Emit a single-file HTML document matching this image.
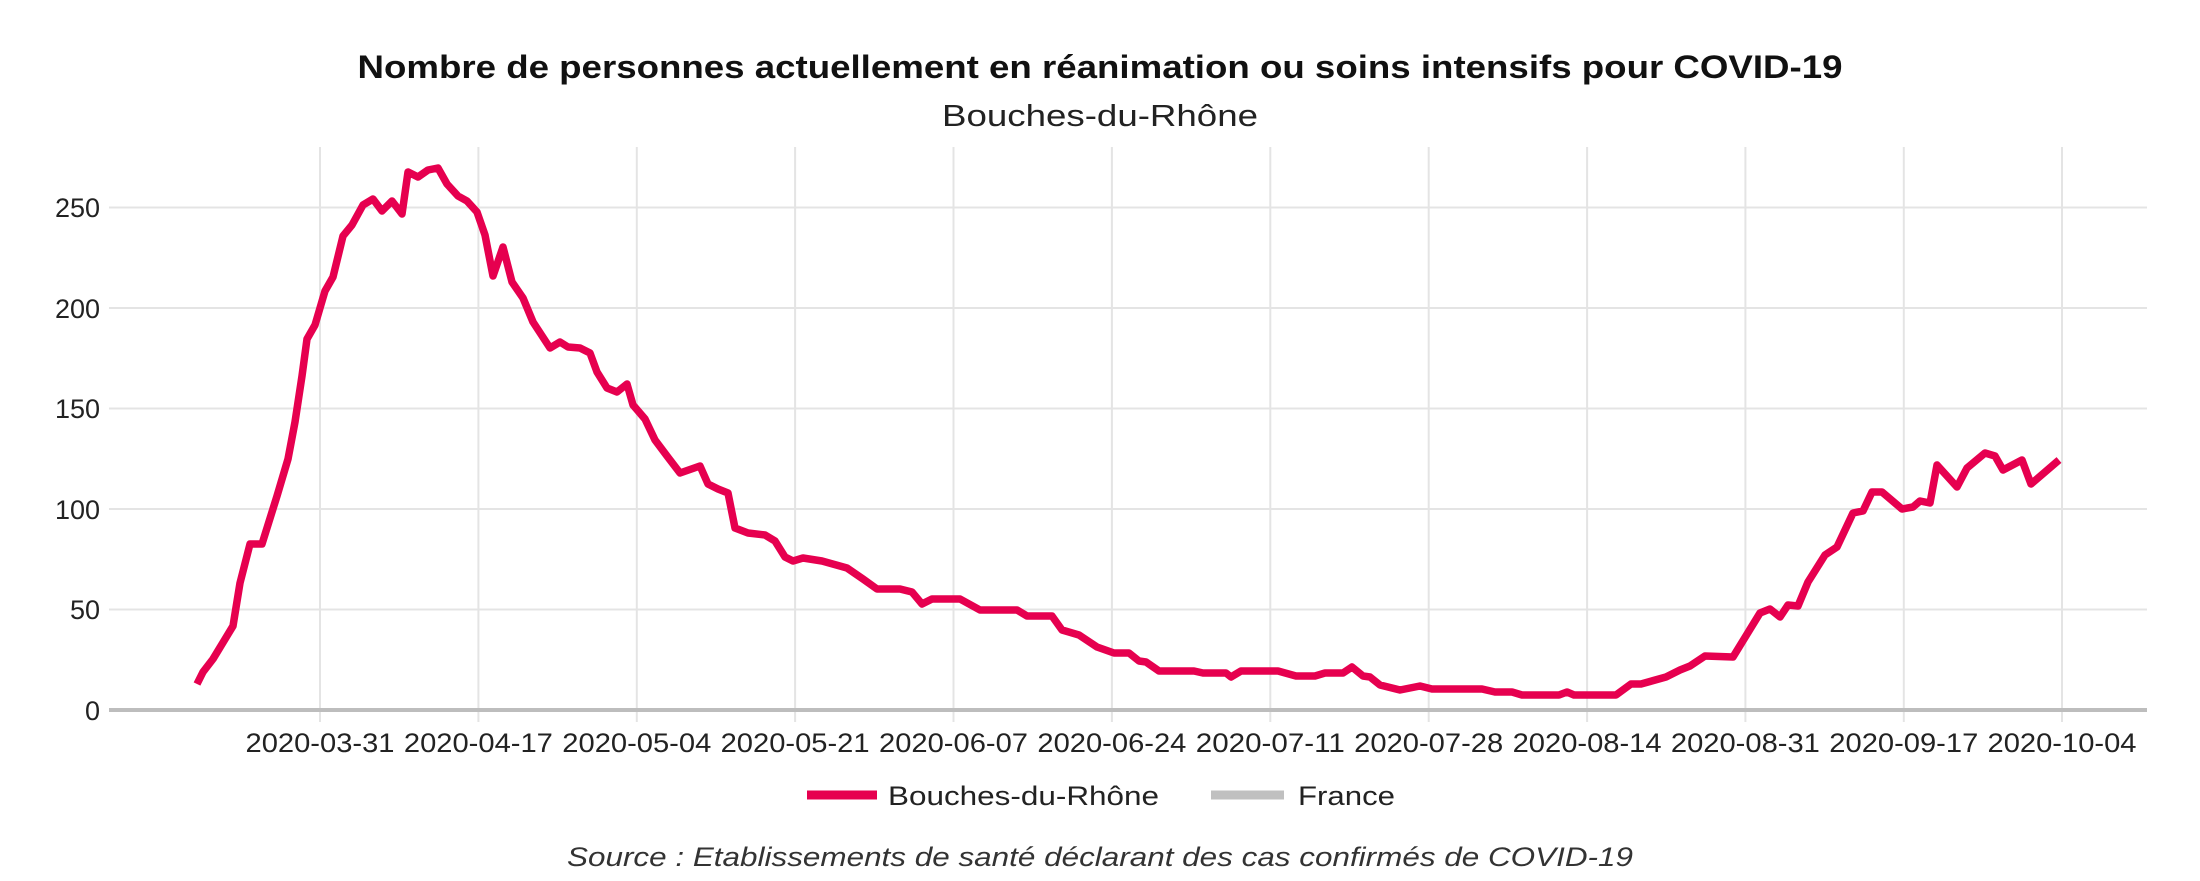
<!DOCTYPE html>
<html><head><meta charset="utf-8"><style>html,body{margin:0;padding:0;background:#fff}svg{display:block}</style></head>
<body>
<svg width="2200" height="881" viewBox="0 0 2200 881" xmlns="http://www.w3.org/2000/svg" font-family="Liberation Sans, Arial, sans-serif">
<rect width="2200" height="881" fill="#fff"/>
<g stroke="#e4e4e4" stroke-width="2">
<line x1="109" x2="2147" y1="609.5" y2="609.5"/>
<line x1="109" x2="2147" y1="509" y2="509"/>
<line x1="109" x2="2147" y1="408.5" y2="408.5"/>
<line x1="109" x2="2147" y1="308" y2="308"/>
<line x1="109" x2="2147" y1="207.5" y2="207.5"/>
<line x1="320" x2="320" y1="147" y2="722"/>
<line x1="478.4" x2="478.4" y1="147" y2="722"/>
<line x1="636.8" x2="636.8" y1="147" y2="722"/>
<line x1="795.1" x2="795.1" y1="147" y2="722"/>
<line x1="953.5" x2="953.5" y1="147" y2="722"/>
<line x1="1111.9" x2="1111.9" y1="147" y2="722"/>
<line x1="1270.3" x2="1270.3" y1="147" y2="722"/>
<line x1="1428.7" x2="1428.7" y1="147" y2="722"/>
<line x1="1587.1" x2="1587.1" y1="147" y2="722"/>
<line x1="1745.4" x2="1745.4" y1="147" y2="722"/>
<line x1="1903.8" x2="1903.8" y1="147" y2="722"/>
<line x1="2062" x2="2062" y1="147" y2="722"/>
</g>
<line x1="109" x2="2147" y1="710" y2="710" stroke="#bdbdbd" stroke-width="4"/>
<g fill="#222" font-size="27" text-anchor="end">
<text x="100" y="720">0</text>
<text x="100" y="619">50</text>
<text x="100" y="519">100</text>
<text x="100" y="418">150</text>
<text x="100" y="318">200</text>
<text x="100" y="217">250</text>
</g>
<g fill="#222" font-size="27" text-anchor="middle">
<text x="320" y="752" textLength="149" lengthAdjust="spacingAndGlyphs">2020-03-31</text>
<text x="478.4" y="752" textLength="149" lengthAdjust="spacingAndGlyphs">2020-04-17</text>
<text x="636.8" y="752" textLength="149" lengthAdjust="spacingAndGlyphs">2020-05-04</text>
<text x="795.1" y="752" textLength="149" lengthAdjust="spacingAndGlyphs">2020-05-21</text>
<text x="953.5" y="752" textLength="149" lengthAdjust="spacingAndGlyphs">2020-06-07</text>
<text x="1111.9" y="752" textLength="149" lengthAdjust="spacingAndGlyphs">2020-06-24</text>
<text x="1270.3" y="752" textLength="149" lengthAdjust="spacingAndGlyphs">2020-07-11</text>
<text x="1428.7" y="752" textLength="149" lengthAdjust="spacingAndGlyphs">2020-07-28</text>
<text x="1587.1" y="752" textLength="149" lengthAdjust="spacingAndGlyphs">2020-08-14</text>
<text x="1745.4" y="752" textLength="149" lengthAdjust="spacingAndGlyphs">2020-08-31</text>
<text x="1903.8" y="752" textLength="149" lengthAdjust="spacingAndGlyphs">2020-09-17</text>
<text x="2062" y="752" textLength="149" lengthAdjust="spacingAndGlyphs">2020-10-04</text>
</g>
<polyline fill="none" stroke="#e6004f" stroke-width="7.5" stroke-linejoin="round" points="
197,684 203,672 213,659 233,626 240,583 250,544 262,544 277,496 288,459 295,422 302,376 307,339 315,325 325,291 333,277 343,236 352,225 363,205 373,199 382,211 392,201 402,214 408,172 418,177 428,170 438,168 447,184 458,196 467,201 477,212 485,235 493,276
503,247 512,282 523,298 533,322 550,348 560,342 568,347 580,348 590,353 597,372 607,388 617,392 627,384 633,405 645,419 655,440 667,456 680,473 700,466 708,484 718,489 728,493 735,528 748,533 765,535 775,541 785,557 793,561 803,558 822,561 847,568 863,579 877,589 900,589 912,592 922,604 932,599 960,599 980,610 1017,610 1027,616 1052,616 1062,630 1079,635 1097,647 1114,653 1129,653 1139,661 1146,662 1159,671 1194,671 1203,673 1226,673 1231,677 1241,671 1278,671 1296,676 1315,676 1325,673 1343,673 1352,667 1363,676 1370,677 1380,685 1400,690 1420,686 1432,689 1482,689 1495,692 1512,692 1522,695 1559,695 1567,692 1574,695 1616,695 1631,684 1641,684 1666,677 1680,670 1690,666 1705,656 1733,657 1760,613 1770,609 1780,617 1788,605 1798,606 1808,582 1825,555 1837,547 1853,513 1863,511 1872,492 1882,492 1902,509 1913,507 1920,501 1930,503 1937,465 1957,487 1967,468 1985,453 1995,456 2003,470 2022,460 2031,484 2059,460"/>
<text x="1100" y="78" font-size="32" font-weight="bold" fill="#111" text-anchor="middle" textLength="1485" lengthAdjust="spacingAndGlyphs">Nombre de personnes actuellement en réanimation ou soins intensifs pour COVID-19</text>
<text x="1100" y="126" font-size="31" fill="#222" text-anchor="middle" textLength="316" lengthAdjust="spacingAndGlyphs">Bouches-du-Rhône</text>
<line x1="807" x2="877" y1="795" y2="795" stroke="#e6004f" stroke-width="9"/>
<text x="888" y="805" font-size="27" fill="#222" textLength="271" lengthAdjust="spacingAndGlyphs">Bouches-du-Rhône</text>
<line x1="1211" x2="1284" y1="795" y2="795" stroke="#c0c0c0" stroke-width="9"/>
<text x="1298" y="805" font-size="27" fill="#222" textLength="97" lengthAdjust="spacingAndGlyphs">France</text>
<text x="1100" y="866" font-size="27" font-style="italic" fill="#333" text-anchor="middle" textLength="1066" lengthAdjust="spacingAndGlyphs">Source : Etablissements de santé déclarant des cas confirmés de COVID-19</text>
</svg>
</body></html>
